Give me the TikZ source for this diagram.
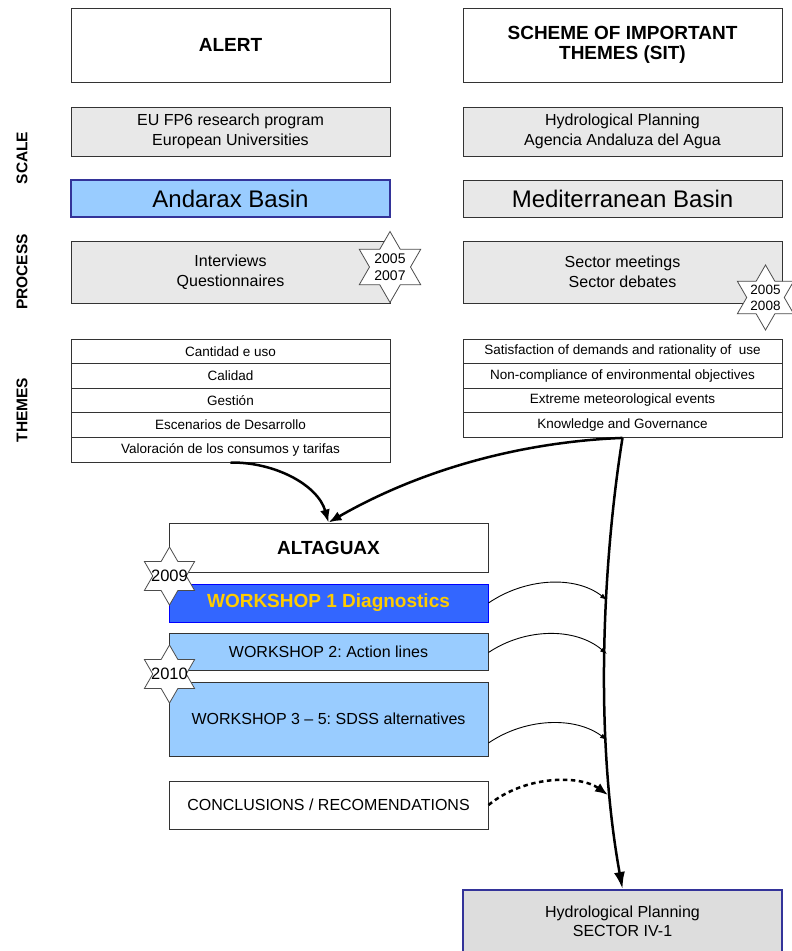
\documentclass[tikz,border=0pt]{standalone}
\usepackage{fontspec}
\setmainfont{Liberation Sans}
\frenchspacing
\usetikzlibrary{arrows.meta}
\definecolor{boxgray}{HTML}{E8E8E8}
\definecolor{hydgray}{HTML}{DDDDDD}
\definecolor{lightblue}{HTML}{99CCFF}
\definecolor{darkblue}{HTML}{333399}
\definecolor{wsblue}{HTML}{3366FF}
\definecolor{wsborder}{HTML}{0000FF}
\definecolor{wsyellow}{HTML}{FFCC00}
\tikzset{
  box/.style={draw=black!80, line width=1pt, minimum width=319pt, inner sep=0pt, align=center, font=\fontsize{16}{19.5}\selectfont},
  graybox/.style={box, fill=boxgray},
  titlefont/.style={font=\fontsize{19}{19.5}\selectfont\bfseries},
  row/.style={box, minimum height=24.6pt, font=\fontsize{13.5}{14}\selectfont},
  side/.style={rotate=90, font=\fontsize{15.5}{16}\selectfont\bfseries},
  mainarrow/.style={line width=2.5pt, -{Latex[length=13pt,width=10pt]}},
  thinarrow/.style={line width=0.9pt, -{Latex[length=7pt,width=5pt]}},
  dasharrow/.style={line width=2.5pt, dash pattern=on 4.5pt off 3.5pt, -{Latex[length=13pt,width=10pt]}},
  startext/.style={align=center, inner sep=0pt},
  pics/hexstar/.style={code={
    \draw[fill=white, draw=black!70, line width=0.8pt]
      (90:#1) -- (120:{#1/1.732}) -- (150:#1) -- (180:{#1/1.732}) -- (210:#1) -- (240:{#1/1.732})
      -- (270:#1) -- (300:{#1/1.732}) -- (330:#1) -- (0:{#1/1.732}) -- (30:#1) -- (60:{#1/1.732}) -- cycle;
  }}
}
\begin{document}
\begin{tikzpicture}[x=1pt,y=-1pt]
\useasboundingbox[fill=white] (0,0) rectangle (792,951);

% side labels
\node[side] (lscale) at (22,158) {SCALE};
\node[side] (lprocess) at (22,272) {PROCESS};
\node[side] (lthemes) at (22,410) {THEMES};

% top rows
\node[box, minimum height=74pt, titlefont] (alert) at (230.5,45) {ALERT};
\node[box, minimum height=74pt, titlefont] (sit) at (622.5,45) {SCHEME OF IMPORTANT\\THEMES (SIT)};

\node[graybox, minimum height=49pt] (eu) at (230.5,131.5) {EU FP6 research program\\European Universities};
\node[graybox, minimum height=49pt] (hp) at (622.5,131.5) {Hydrological Planning\\Agencia Andaluza del Agua};

\node[box, minimum height=37pt, fill=lightblue, draw=darkblue, line width=2pt, font=\fontsize{24}{26}\selectfont] (andarax) at (230.5,198.5) {Andarax Basin};
\node[graybox, minimum height=37pt, font=\fontsize{24}{26}\selectfont] (med) at (622.5,198.5) {Mediterranean Basin};

\node[graybox, minimum height=62pt] (interv) at (230.5,272) {Interviews\\Questionnaires};
\node[graybox, minimum height=62pt] (sector) at (622.5,272) {Sector meetings\\Sector debates};

% themes left
\node[row] (l1) at (230.5,351.3) {Cantidad e uso};
\node[row] (l2) at (230.5,375.9) {Calidad};
\node[row] (l3) at (230.5,400.5) {Gestión};
\node[row] (l4) at (230.5,425.1) {Escenarios de Desarrollo};
\node[row] (l5) at (230.5,449.7) {Valoración de los consumos y tarifas};

% themes right
\node[row] (r1) at (622.5,351.3) {Satisfaction of demands and rationality of\ \ use};
\node[row] (r2) at (622.5,375.9) {Non-compliance of environmental objectives};
\node[row] (r3) at (622.5,400.5) {Extreme meteorological events};
\node[row] (r4) at (622.5,425.1) {Knowledge and Governance};

% lower column
\node[box, minimum height=49pt, titlefont] (altaguax) at (328.5,547.5) {ALTAGUAX};
\node[box, minimum height=38pt, fill=wsblue, draw=wsborder, text=wsyellow, titlefont] (ws1) at (328.5,603) {WORKSHOP 1 Diagnostics};
\node[box, minimum height=37pt, fill=lightblue] (ws2) at (328.5,651.5) {WORKSHOP 2: Action lines};
\node[box, minimum height=74pt, fill=lightblue] (ws3) at (328.5,719) {WORKSHOP 3 -- 5: SDSS alternatives};
\node[box, minimum height=48pt] (concl) at (328.5,805) {CONCLUSIONS / RECOMENDATIONS};

\node[box, minimum height=63pt, fill=hydgray, draw=darkblue, line width=2pt] (hydro) at (622.5,921.5) {Hydrological Planning\\SECTOR IV-1};

% stars
\pic at (390,267) {hexstar=35.5};
\node[startext, font=\fontsize{14}{16.7}\selectfont] (s1) at (390,267) {2005\\2007};
\pic at (765.5,297.5) {hexstar=32.5};
\node[startext, font=\fontsize{13.5}{16}\selectfont] (s2) at (765.5,297.5) {2005\\2008};
\pic at (169.5,576) {hexstar=29};
\node[startext, font=\fontsize{16.5}{18}\selectfont] (s3) at (169.5,576) {2009};
\pic at (169.5,674) {hexstar=29};
\node[startext, font=\fontsize{16.5}{18}\selectfont] (s4) at (169.5,674) {2010};

% connectors
\coordinate (e1) at (607,600);
\coordinate (e2) at (607,654);
\coordinate (e3) at (607,740);
\coordinate (e4) at (608,795);

\draw[mainarrow] (l5.south) .. controls (275,462) and (318,485) .. (altaguax.north);
\draw[mainarrow] (r4.south) .. controls (520,442) and (420,470) .. (altaguax.north);
\draw[line width=2.5pt, -{Latex[length=17pt,width=11pt]}] (r4.south) .. controls (606,540) and (592,720) .. (hydro.north);

\draw[thinarrow] (ws1.east) .. controls (525,578) and (575,575) .. (e1);
\draw[thinarrow] ([yshift=-1pt]ws2.east) .. controls (525,628) and (575,627) .. (e2);
\draw[thinarrow] (ws3.east |- 0,743) .. controls (525,718) and (575,716) .. (e3);
\draw[dasharrow] (concl.east) .. controls (525,775) and (580,775) .. (e4);
\end{tikzpicture}
\end{document}
